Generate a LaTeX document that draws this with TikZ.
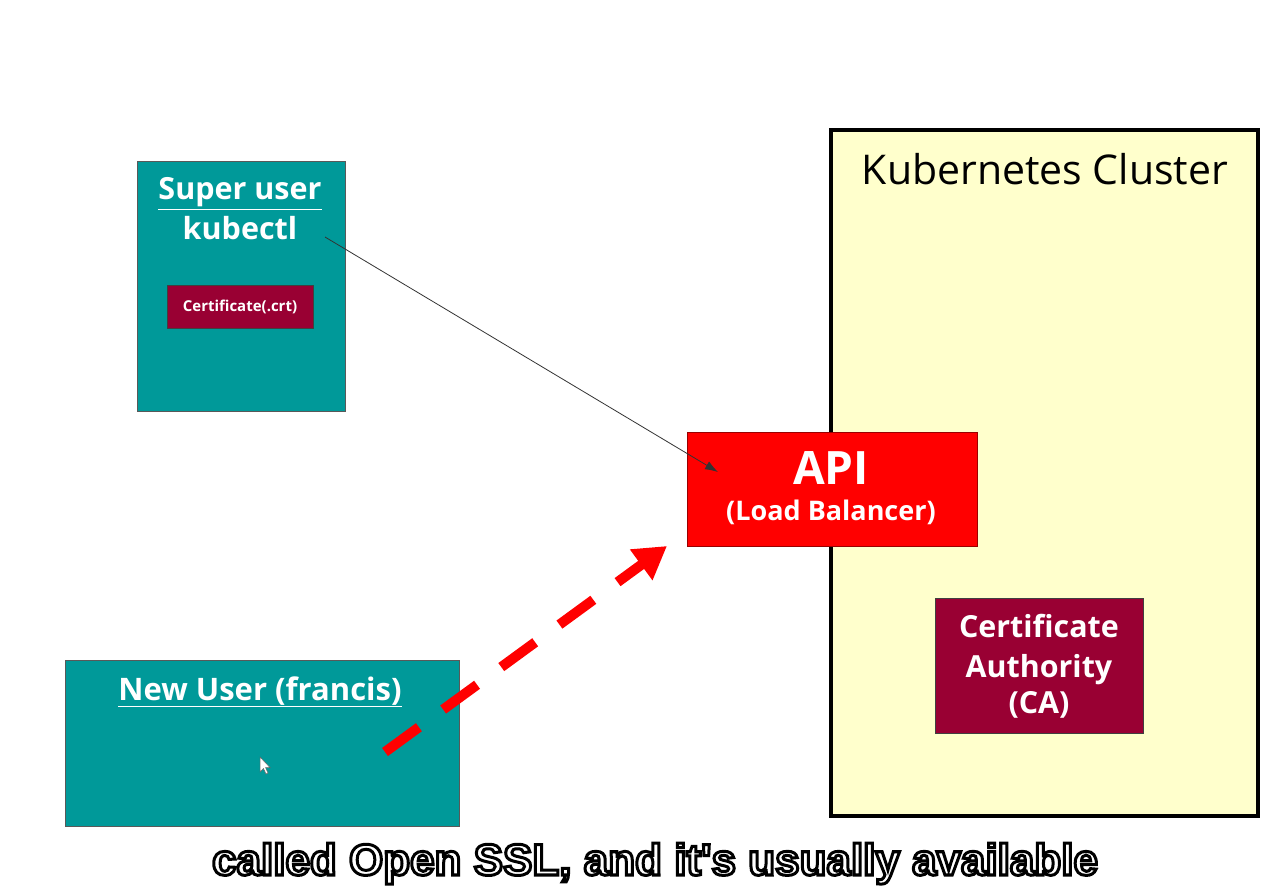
\documentclass[tikz,border=0pt]{standalone}
\usepackage{fontspec}
\setmainfont{Open Sans}
\newfontfamily\capfont{Liberation Sans}
\usetikzlibrary{arrows,arrows.meta,shapes}
\definecolor{boxteal}{RGB}{0,153,153}
\definecolor{boxmaroon}{RGB}{153,0,51}
\definecolor{clusteryellow}{RGB}{255,255,204}
\definecolor{apired}{RGB}{255,0,0}
\tikzstyle{userbox}=[draw=black!65,fill=boxteal,inner sep=0pt,line width=1pt]
\tikzstyle{certbox}=[draw=black!75,fill=boxmaroon,inner sep=0pt,line width=1pt]
\tikzstyle{apibox}=[draw=black!40!red,fill=apired,inner sep=0pt,line width=1pt]
\tikzstyle{clusterbox}=[draw=black,fill=clusteryellow,inner sep=0pt,line width=4pt]
\tikzstyle{boxtext}=[text=white,inner sep=0pt,anchor=base,font=\bfseries]
\tikzstyle{caption}=[inner sep=0pt,anchor=base,font=\capfont\bfseries\fontsize{44}{52}\selectfont]
% outlined letters for the caption
\newcommand{\rimtext}[1]{\special{pdf:literal direct 2 Tr 3 w 0 G}#1\special{pdf:literal direct 0 Tr}}

\begin{document}
\begin{tikzpicture}[x=1pt,y=-1pt]
    \useasboundingbox[fill=white] (0,0) rectangle (1278,896);
    % First we draw the boxes
    \node[clusterbox,minimum width=427,minimum height=686] (cluster) at (1044.5,473) {};
    \node[userbox,minimum width=208,minimum height=249] (super) at (241,286.5) {};
    \node[certbox,minimum width=146,minimum height=42] (crt) at (240,307) {};
    \node[userbox,minimum width=394,minimum height=166] (newuser) at (262,743) {};
    \node[apibox,minimum width=290,minimum height=114] (api) at (832,489) {};
    \node[certbox,minimum width=208,minimum height=135] (ca) at (1039,665.5) {};
    % Then the texts inside them
    \node[inner sep=0pt,anchor=base,font=\fontsize{41}{48}\selectfont] (title) at (1045,185) {Kubernetes Cluster};
    \node[boxtext,font=\bfseries\fontsize{30.5}{36}\selectfont] (superlbl) at (240,200) {\underline{Super user}};
    \node[boxtext,font=\bfseries\fontsize{30.5}{36}\selectfont] (kubectl) at (240,240) {kubectl};
    \node[boxtext,font=\bfseries\fontsize{15}{18}\selectfont,anchor=center] (crtlbl) at (crt) {Certificate(.crt)};
    \node[boxtext,font=\bfseries\fontsize{31}{36}\selectfont] (newlbl) at (260,700) {\underline{New User (francis)}};
    \node[boxtext,font=\bfseries\fontsize{46}{52}\selectfont] (apilbl) at (831,484) {API};
    \node[boxtext,font=\bfseries\fontsize{27}{32}\selectfont] (lblb) at (831,520) {(Load Balancer)};
    \foreach \name/\y/\txt in {ca1/637/Certificate, ca2/677/Authority, ca3/713/(CA)}
        \node[boxtext,font=\bfseries\fontsize{30.4}{36}\selectfont] (\name) at (1039,\y) {\txt};
    % Connect users with the API
    \coordinate (from1) at (325,237);
    \coordinate (to1) at (718,472);
    \coordinate (from2) at (385,752);
    \coordinate (to2) at (667,546);
    \draw[line width=0.8pt,black!80,-{Latex[length=13pt,width=9pt]}] (from1) -- (to1);
    \draw[line width=10pt,apired,dash pattern=on 42pt off 30pt,-{Triangle[length=32pt,width=36pt]}] (from2) -- (to2);
    % the mouse pointer
    \draw[fill=white,draw=black!60,line width=0.5pt] (260,757) -- (260,772) -- (263.5,768.5) -- (266,774) -- (268,773) -- (265.5,767.5) -- (270,767.5) -- cycle;
    % caption with a dark rim
    \node[caption,text=white] (cap) at (655,875) {\rimtext{called Open SSL, and it's usually available}};
\end{tikzpicture}
\end{document}
